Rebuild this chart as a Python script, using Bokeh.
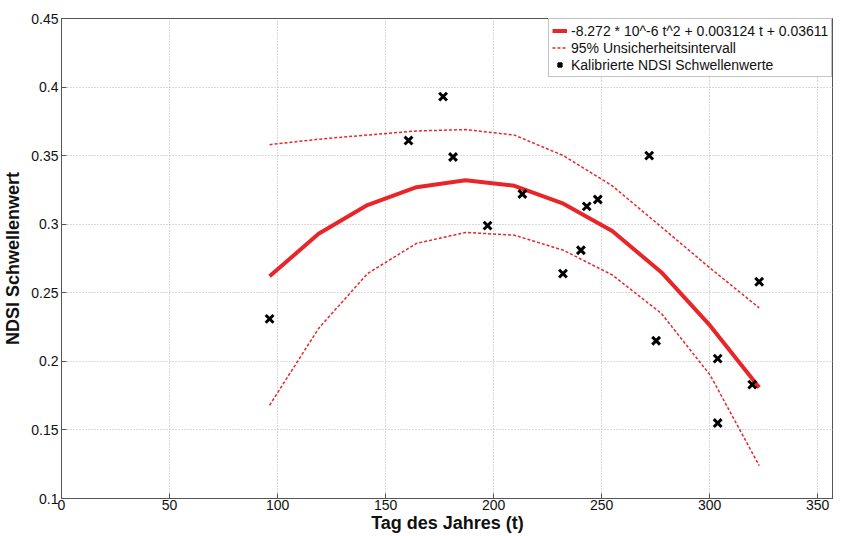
from bokeh.plotting import figure
from bokeh.models import Range1d, FixedTicker, Legend, LegendItem
from bokeh.embed import file_html
from bokeh.resources import INLINE

# ---- data ----
day = [96.3, 160.6, 176.6, 181.2, 197.2, 213.3, 232.1, 240.4, 243.1, 248.2,
       272.0, 275.2, 303.7, 303.7, 319.7, 322.9]
ndsi = [0.231, 0.361, 0.393, 0.349, 0.299, 0.322, 0.264, 0.281, 0.313, 0.318,
        0.350, 0.215, 0.202, 0.155, 0.183, 0.258]

fit_day = [96.3, 119.0, 141.6, 164.3, 187.0, 209.6, 232.3, 254.9, 277.6, 300.2, 322.9]
fit_val = [0.262, 0.293, 0.314, 0.327, 0.332, 0.328, 0.315, 0.295, 0.265, 0.226, 0.181]
upper = [0.358, 0.362, 0.365, 0.368, 0.369, 0.365, 0.350, 0.328, 0.298, 0.268, 0.239]
lower = [0.168, 0.224, 0.264, 0.286, 0.294, 0.292, 0.281, 0.263, 0.235, 0.190, 0.124]

x_ticks = [0, 50, 100, 150, 200, 250, 300, 350]
y_ticks = [0.1, 0.15, 0.2, 0.25, 0.3, 0.35, 0.4, 0.45]
y_tick_labels = ["0.1", "0.15", "0.2", "0.25", "0.3", "0.35", "0.4", "0.45"]

fit_label = "-8.272 * 10^-6 t^2 + 0.003124 t + 0.03611"
ci_label = "95% Unsicherheitsintervall"
pts_label = "Kalibrierte NDSI Schwellenwerte"
x_label = "Tag des Jahres (t)"
y_label = "NDSI Schwellenwert"

FONT = "Liberation Sans"
RED = "#e8262a"

p = figure(width=833, height=536, output_backend="svg", toolbar_location=None,
           x_range=Range1d(0, 357.3), y_range=Range1d(0.1, 0.45),
           min_border_left=54, min_border_right=0, min_border_top=18,
           min_border_bottom=38)
p.background_fill_color = "white"
p.border_fill_color = "white"
p.outline_line_color = "#555555"
p.outline_line_width = 1

fit_r = p.line(fit_day, fit_val, line_color=RED, line_width=4)
up_r = p.line(fit_day, upper, line_color=RED, line_width=1.5, line_dash="3 2")
lo_r = p.line(fit_day, lower, line_color=RED, line_width=1.5, line_dash="3 2")
pts = p.scatter(day, ndsi, marker="x", size=11, line_width=3, line_color="black")

for ax in (p.xaxis[0], p.yaxis[0]):
    ax.axis_line_color = "#555555"
    ax.major_tick_line_color = "#555555"
    ax.major_tick_in = 5
    ax.major_tick_out = 0
    ax.minor_tick_line_color = None
    ax.major_label_text_font = FONT
    ax.major_label_text_font_size = "14px"
    ax.major_label_text_color = "#111111"
    ax.axis_label_text_font = FONT
    ax.axis_label_text_font_size = "18px"
    ax.axis_label_text_font_style = "bold"
    ax.axis_label_text_color = "#111111"
    ax.major_label_standoff = 3

p.xaxis[0].ticker = FixedTicker(ticks=x_ticks)
p.yaxis[0].ticker = FixedTicker(ticks=y_ticks)
p.yaxis[0].major_label_overrides = {t: s for t, s in zip(y_ticks, y_tick_labels)}
p.xaxis[0].axis_label = x_label
p.yaxis[0].axis_label = y_label
p.xaxis[0].major_label_standoff = 1
p.xaxis[0].axis_label_standoff = 0
p.yaxis[0].axis_label_standoff = 5

for g in (p.xgrid[0], p.ygrid[0]):
    g.grid_line_color = "#b5b5b5"
    g.grid_line_dash = "1 2"
    g.grid_line_width = 1

legend = Legend(items=[LegendItem(label=fit_label, renderers=[fit_r]),
                       LegendItem(label=ci_label, renderers=[up_r]),
                       LegendItem(label=pts_label, renderers=[pts])],
                location=(487, 421))
legend.label_text_font = FONT
legend.label_text_font_size = "14px"
legend.label_text_color = "#111111"
legend.label_height = 17
legend.glyph_height = 17
legend.glyph_width = 15
legend.label_standoff = 4
legend.spacing = 0
legend.padding = 3
legend.margin = 0
legend.border_line_color = "#888888"
legend.border_line_width = 1
legend.background_fill_alpha = 1
p.add_layout(legend)

open("out.html", "w").write(file_html(p, INLINE))
